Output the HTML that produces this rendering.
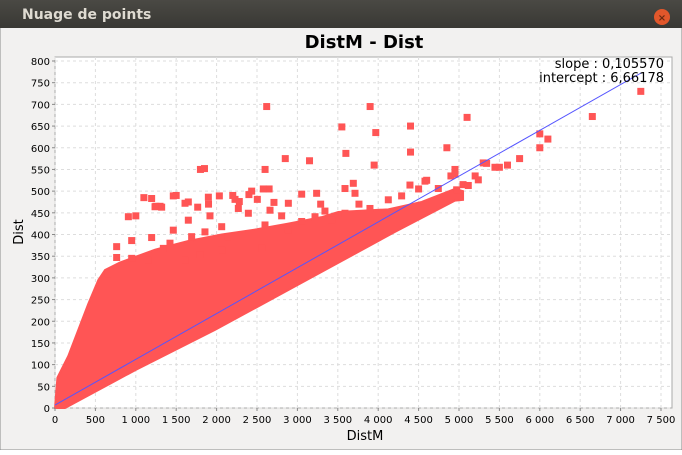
<!DOCTYPE html>
<html><head><meta charset="utf-8"><style>
body{margin:0;width:682px;height:450px;overflow:hidden;font-family:"Liberation Sans","DejaVu Sans",sans-serif;}
</style></head><body>
<svg id="c" width="682" height="450" xmlns="http://www.w3.org/2000/svg" style="font-family:'DejaVu Sans','Liberation Sans',sans-serif">
<defs><linearGradient id="tb" x1="0" y1="0" x2="0" y2="1"><stop offset="0" stop-color="#4a4944"/><stop offset="1" stop-color="#393834"/></linearGradient></defs>
<rect x="0" y="0" width="682" height="450" fill="#f2f1f0" stroke="#8a8a8a"/>
<rect x="0" y="0" width="682" height="28" fill="url(#tb)"/>
<text x="22" y="19" font-size="14" font-weight="bold" fill="#dfdbd2">Nuage de points</text>
<circle cx="662" cy="17" r="8" fill="#e2572b"/>
<text x="662" y="21" font-size="10" text-anchor="middle" fill="#6a2a10" font-weight="bold">×</text>
<text x="364" y="48" font-size="18" font-weight="bold" text-anchor="middle" fill="#000">DistM - Dist</text>
<rect x="55" y="57" width="617" height="351" fill="#fff" stroke="#aaa"/>
<g id="grid"></g><g id="marks"></g><g id="axes"></g>
<text x="664" y="68" font-size="13" text-anchor="end" fill="#000">slope : 0,105570</text>
<text x="664" y="82" font-size="13" text-anchor="end" fill="#000">intercept : 6,66178</text>
<text x="365" y="440" font-size="13" text-anchor="middle">DistM</text>
<text transform="translate(23,232) rotate(-90)" font-size="13" text-anchor="middle">Dist</text>
</svg>
<script>
const xTicks=[0,500,1000,1500,2000,2500,3000,3500,4000,4500,5000,5500,6000,6500,7000,7500];
const yTicks=[0,50,100,150,200,250,300,350,400,450,500,550,600,650,700,750,800];
const upperX=[0,30,165,412,536,619,800,1238,1650,2063,2500,2888,3300,3506,4125,4538,4950,5050];
const upperY=[0,70,120,240,295,318,335,365,385,400,412,425,440,452,458,475,505,500];
const lowerX=[5050,4950,4208,2888,1980,1000,124];
const lowerY=[480,478,406,272,180,88,0];
const outX=[2620,3900,3970,4400,5100,6650,7250,6100,6000,6000,3550,3600,4400,3950,4850,2600,2850,3150,1800,1850,2650,2400,2200,1500,1100,1250,1300,1650,1000,1900,4950,4900,5300,5500,5600,5750,5050,5200,4600,4500,
 908,1196,1238,1320,1464,1609,1766,1898,2034,1918,2228,2281,2269,2434,2578,2504,2710,2393,2661,2805,2888,3053,3238,3288,3341,3589,3692,3713,3762,3898,4125,4290,4393,4579,4744,4971,5115,5239,5445,5342,4950,
 1464,1196,949,763,763,660,1341,1423,1650,1691,1856,2063,2145,2599,2888,3053,3218,3424,3589,2558,2063,1794,1609,1155,949];
const outY=[695,695,635,650,670,672,730,620,600,632,648,587,590,560,600,550,575,570,550,552,505,492,490,490,485,465,465,475,443,470,550,535,565,555,560,575,515,535,525,505,
 441,483,464,463,489,472,463,486,489,443,481,476,460,500,505,481,474,449,456,443,472,493,495,470,454,506,518,495,470,460,480,489,514,523,506,503,513,526,555,564,539,
 410,393,386,372,347,310,368,380,433,395,406,418,395,422,410,430,441,433,449,368,364,353,341,341,345];
const slope=0.10557, intercept=6.66178;
const X=v=>55+v*(606/7500), Y=v=>408-v*(347/800);
const NS="http://www.w3.org/2000/svg";
function mk(t,a,p){const e=document.createElementNS(NS,t);for(const k in a)e.setAttribute(k,a[k]);p.appendChild(e);return e;}
const grid=document.getElementById('grid'),marks=document.getElementById('marks'),axes=document.getElementById('axes');
const fmt=v=>v>=1000?Math.floor(v/1000)+' '+String(v%1000).padStart(3,'0'):String(v);
xTicks.forEach(v=>{
 const g=mk('line',{x1:X(v),x2:X(v),y1:57,y2:408,stroke:'#ddd','stroke-dasharray':'3,3'},grid);
 
 
 mk('line',{x1:X(v),x2:X(v),y1:408,y2:411,stroke:'#888'},axes);
 const t=mk('text',{x:X(v),y:423,'font-size':10,'text-anchor':'middle'},axes);t.textContent=fmt(v);
 
 
});
yTicks.forEach(v=>{
 const g=mk('line',{x1:55,x2:672,y1:Y(v),y2:Y(v),stroke:'#ddd','stroke-dasharray':'3,3'},grid);
 
 
 mk('line',{x1:52,x2:55,y1:Y(v),y2:Y(v),stroke:'#888'},axes);
 const t=mk('text',{x:50,y:Y(v)+4,'font-size':10,'text-anchor':'end'},axes);t.textContent=fmt(v);
 
 
});
let pts=upperX.map((x,i)=>X(x)+','+Y(upperY[i])).concat(lowerX.map((x,i)=>X(x)+','+Y(lowerY[i])));
const poly=mk('polygon',{points:pts.join(' '),fill:'#ff5555',stroke:'#ff5555','stroke-width':2},marks);


outX.forEach((x,i)=>{
 const r=mk('rect',{x:X(x)-3.5,y:Y(outY[i])-3.5,width:7,height:7,fill:'#ff5555'},marks);
 
 
});
const ln=mk('line',{x1:X(0),y1:Y(intercept),x2:X(7250),y2:Y(slope*7250+intercept),stroke:'#5555ff','stroke-width':1},marks);


</script>
</body></html>
